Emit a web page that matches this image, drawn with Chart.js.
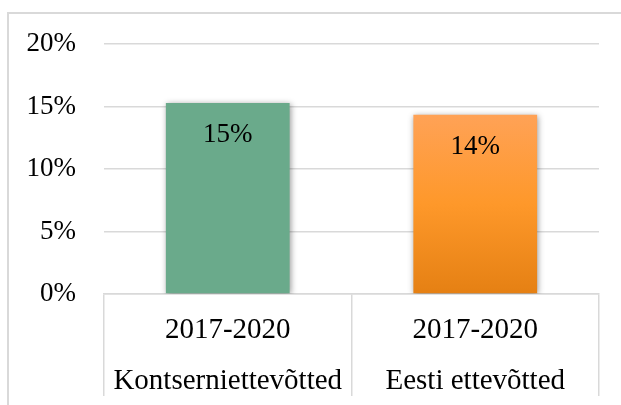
<!DOCTYPE html>
<html>
<head>
<meta charset="utf-8">
<script src="https://cdn.jsdelivr.net/npm/chart.js@4"></script>
<style>
  html, body { margin: 0; padding: 0; background: #fff; }
  #wrap { position: relative; width: 621px; height: 405px; overflow: hidden; }
  #frame { position: absolute; left: 7px; top: 12px; width: 700px; height: 500px;
           border-left: 2px solid #d9d9d9; border-top: 2px solid #d9d9d9; }
  canvas { position: absolute; left: 0; top: 0; }
</style>
</head>
<body>
<div id="wrap">
  <div id="frame"></div>
  <canvas id="chart" width="621" height="405"></canvas>
</div>
<script>
const periods = ['2017-2020', '2017-2020'];
const groups = ['Kontserniettevõtted', 'Eesti ettevõtted'];
const shares = [15.3, 14.35];
const shownLabels = ['15%', '14%'];
const yTicks = [0, 5, 10, 15, 20];

const FONT = "'Liberation Serif', 'Times New Roman', serif";

function orangeFill(ctx) {
  const chart = ctx.chart;
  const area = chart.chartArea;
  if (!area) return '#fb9427';
  const y = chart.scales.y;
  const g = chart.ctx.createLinearGradient(0, y.getPixelForValue(shares[1]), 0, y.getPixelForValue(0));
  g.addColorStop(0, '#ffa256');
  g.addColorStop(0.5, '#fe982a');
  g.addColorStop(1, '#e58013');
  return g;
}

const shadowPlugin = {
  id: 'barShadow',
  beforeDatasetsDraw(chart) {
    const c = chart.ctx;
    c.save();
    c.shadowColor = 'rgba(0,0,0,0.4)';
    c.shadowBlur = 6;
    c.shadowOffsetX = 1;
    c.shadowOffsetY = 1;
  },
  afterDatasetsDraw(chart) {
    chart.ctx.restore();
  }
};

const valueLabels = {
  id: 'valueLabels',
  afterDatasetsDraw(chart) {
    const c = chart.ctx;
    const meta = chart.getDatasetMeta(0);
    c.save();
    c.font = '27px ' + FONT;
    c.fillStyle = '#000';
    c.textAlign = 'center';
    c.textBaseline = 'middle';
    meta.data.forEach((bar, i) => {
      c.fillText(shownLabels[i], bar.x, bar.y + 32);
    });
    c.restore();
  }
};

new Chart(document.getElementById('chart'), {
  type: 'bar',
  data: {
    labels: periods.map((p, i) => [p, groups[i]]),
    datasets: [{
      data: shares,
      backgroundColor: ctx => ctx.dataIndex === 0 ? '#6aaa8b' : orangeFill(ctx),
      borderWidth: 0,
      barPercentage: 0.5,
      categoryPercentage: 1
    }]
  },
  options: {
    responsive: false,
    animation: false,
    layout: { padding: { top: 43, right: 22, left: 0, bottom: 0 } },
    plugins: { legend: { display: false }, tooltip: { enabled: false } },
    scales: {
      x: {
        afterFit(scale) { scale.height = 111; },
        border: { display: true, color: '#d9d9d9', width: 1.5 },
        grid: {
          offset: true,
          drawOnChartArea: false,
          drawTicks: true,
          tickLength: 102,
          color: '#d9d9d9',
          lineWidth: 1.5
        },
        ticks: {
          padding: -92,
          color: '#000',
          maxRotation: 0,
          font: { family: FONT, size: 29, lineHeight: 1.79 }
        }
      },
      y: {
        min: 0,
        max: 20,
        afterFit(scale) { scale.width = 104; },
        afterBuildTicks(scale) { scale.ticks = yTicks.map(v => ({ value: v })); },
        border: { display: false },
        grid: { drawTicks: false, color: '#d9d9d9', lineWidth: 1.5 },
        ticks: {
          padding: 28,
          color: '#000',
          font: { family: FONT, size: 27 },
          callback: v => v + '%'
        }
      }
    }
  },
  plugins: [shadowPlugin, valueLabels]
});
</script>
</body>
</html>
